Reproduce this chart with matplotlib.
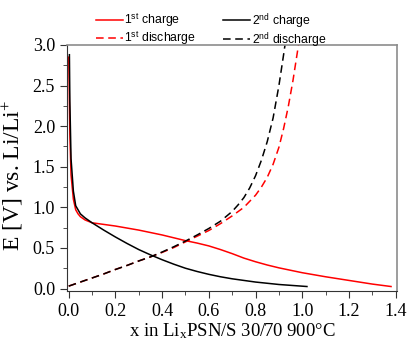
import matplotlib
matplotlib.use("Agg")
import matplotlib.pyplot as plt
from matplotlib.ticker import MultipleLocator, FormatStrFormatter
from matplotlib.lines import Line2D

plt.rcParams['font.family'] = ['Liberation Serif', 'DejaVu Serif']
plt.rcParams['mathtext.fontset'] = 'custom'
plt.rcParams['mathtext.rm'] = 'Liberation Serif'
plt.rcParams['mathtext.it'] = 'Liberation Serif:italic'
plt.rcParams['mathtext.sf'] = 'Liberation Sans'

# 1st cycle
x_ch1 = [0.0, 0.002, 0.005, 0.01, 0.02, 0.03, 0.04, 0.05, 0.07, 0.1, 0.15, 0.2, 0.25,
         0.3, 0.35, 0.4, 0.45, 0.5, 0.55, 0.6, 0.65, 0.7, 0.75, 0.8, 0.85, 0.9, 0.95,
         1.0, 1.1, 1.2, 1.3, 1.38]
E_ch1 = [2.85, 2.5, 1.9, 1.4, 1.1, 0.97, 0.92, 0.885, 0.845, 0.81, 0.79, 0.77, 0.745,
         0.72, 0.69, 0.66, 0.625, 0.59, 0.56, 0.525, 0.48, 0.43, 0.375, 0.33, 0.29, 0.255,
         0.225, 0.195, 0.145, 0.10, 0.055, 0.025]
x_dis1 = [0.0, 0.05, 0.1, 0.15, 0.2, 0.25, 0.3, 0.35, 0.4, 0.45, 0.5, 0.55, 0.6, 0.65,
          0.7, 0.75, 0.8, 0.825, 0.85, 0.875, 0.9, 0.92, 0.94, 0.96, 0.98, 0.99]
E_dis1 = [0.03, 0.08, 0.13, 0.18, 0.235, 0.285, 0.34, 0.39, 0.445, 0.505, 0.575, 0.645,
          0.715, 0.80, 0.895, 1.0, 1.15, 1.25, 1.37, 1.53, 1.74, 1.97, 2.24, 2.56, 2.93, 3.12]

# 2nd cycle
x_ch2 = [0.003, 0.005, 0.01, 0.02, 0.03, 0.05, 0.07, 0.1, 0.15, 0.2, 0.25, 0.3, 0.35,
         0.4, 0.45, 0.5, 0.55, 0.6, 0.65, 0.7, 0.8, 0.9, 1.02]
E_ch2 = [2.88, 2.3, 1.6, 1.2, 1.02, 0.92, 0.87, 0.81, 0.72, 0.635, 0.555, 0.48, 0.415,
         0.355, 0.30, 0.25, 0.21, 0.175, 0.145, 0.12, 0.08, 0.05, 0.025]
x_dis2 = [0.0, 0.05, 0.1, 0.15, 0.2, 0.25, 0.3, 0.35, 0.4, 0.45, 0.5, 0.55, 0.6, 0.65,
          0.7, 0.725, 0.75, 0.775, 0.8, 0.825, 0.85, 0.875, 0.9, 0.92, 0.93]
E_dis2 = [0.03, 0.08, 0.13, 0.18, 0.235, 0.285, 0.34, 0.39, 0.45, 0.515, 0.585, 0.66,
          0.74, 0.83, 0.95, 1.03, 1.12, 1.24, 1.39, 1.58, 1.81, 2.1, 2.5, 2.88, 3.08]

labels = [r"1$^{\mathsf{st}}$ charge", r"1$^{\mathsf{st}}$ discharge",
          r"2$^{\mathsf{nd}}$ charge", r"2$^{\mathsf{nd}}$ discharge"]

fig = plt.figure(figsize=(4.1, 3.46), dpi=100)
ax = fig.add_axes([0.163, 0.159, 0.805, 0.711])

lw = 1.1
dash = (5, 3)
ax.plot(x_ch1, E_ch1, color='red', lw=lw)
ax.plot(x_dis1, E_dis1, color='red', lw=lw, dashes=dash)
ax.plot(x_ch2, E_ch2, color='black', lw=lw)
ax.plot(x_dis2, E_dis2, color='black', lw=lw, dashes=dash)

ax.set_xlim(-0.008, 1.405)
ax.set_ylim(-0.03, 3.0)
ax.xaxis.set_major_locator(MultipleLocator(0.2))
ax.xaxis.set_minor_locator(MultipleLocator(0.1))
ax.yaxis.set_major_locator(MultipleLocator(0.5))
ax.yaxis.set_minor_locator(MultipleLocator(0.25))
ax.tick_params(which='both', direction='out', labelsize=13, color='#333333')
ax.tick_params(which='major', length=5)
ax.tick_params(which='minor', length=3)
ax.xaxis.set_major_formatter(FormatStrFormatter('%.1f'))
ax.yaxis.set_major_formatter(FormatStrFormatter('%.1f'))

for s in ['top', 'right']:
    ax.spines[s].set_color('#8c8c8c')
    ax.spines[s].set_linewidth(1.2)
for s in ['left', 'bottom']:
    ax.spines[s].set_color('#333333')

ax.set_xlabel(r"x in Li$_{\rm x}$PSN/S 30/70 900°C", fontsize=13.5, labelpad=1)
ax.set_ylabel(r"E [V] vs. Li/Li$^{+}$", fontsize=17)
ax.yaxis.set_label_coords(-0.128, 0.47)

handles = [Line2D([], [], color='red', lw=lw),
           Line2D([], [], color='red', lw=lw, dashes=dash),
           Line2D([], [], color='black', lw=lw),
           Line2D([], [], color='black', lw=lw, dashes=dash)]
fig.legend(handles, labels, ncol=2, loc='center', bbox_to_anchor=(0.515, 0.913),
           frameon=False, prop={'family': 'Liberation Sans', 'size': 8.8},
           handlelength=2.2, handletextpad=0.15, columnspacing=2.2,
           labelspacing=0.02, borderaxespad=0)

fig.savefig("out.png", dpi=100)
